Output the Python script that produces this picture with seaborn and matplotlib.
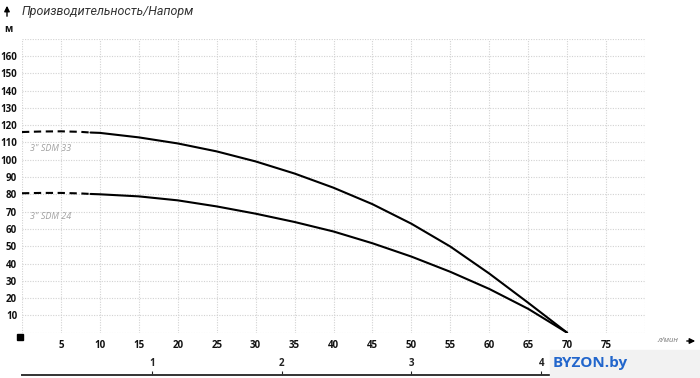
import numpy as np
import pandas as pd
import matplotlib
matplotlib.use("Agg")
import matplotlib.pyplot as plt
import matplotlib.patches as mpatches
import seaborn as sns

# ---- data ----
q_dash = [0, 2.5, 5, 7.5, 8.8]
sdm33_dash = [116.0, 116.3, 116.4, 116.1, 115.7]
sdm24_dash = [80.6, 80.8, 80.8, 80.5, 80.2]

q_solid = [8.8, 10, 15, 20, 25, 30, 35, 40, 45, 50, 55, 60, 65, 70]
sdm33 = [115.7, 115.5, 112.9, 109.4, 104.8, 99.0, 92.0, 83.8, 74.3, 63.0, 49.8, 34.2, 17.3, 0]
sdm24 = [80.2, 80.0, 78.8, 76.5, 73.0, 68.8, 64.0, 58.5, 51.7, 44.0, 35.2, 25.3, 13.8, 0]

series_names = ['3" SDM 33', '3" SDM 24']
x_ticks = list(range(0, 81, 5))
x_labels = [''] + [str(v) for v in range(5, 80, 5)] + ['']
y_ticks = list(range(0, 171, 10))
y_labels = [''] + [str(v) for v in range(10, 170, 10)] + ['']
m3h_ticks = [1, 2, 3, 4]

title = "Производительность/Напорм"
y_unit = "м"
x_unit = "л/мин"

# ---- figure ----
sns.set_theme(style="white")
plt.rcParams['font.family'] = ['Open Sans', 'DejaVu Sans']

W, H = 700, 378
fig = plt.figure(figsize=(W / 100, H / 100), dpi=100)
ax = fig.add_axes([22 / W, 1 - 332.7 / H, (645 - 22) / W, (332.7 - 38.6) / H])

dash_df = pd.DataFrame({"q": q_dash * 2,
                        "h": sdm33_dash + sdm24_dash,
                        "s": [series_names[0]] * len(q_dash) + [series_names[1]] * len(q_dash)})
solid_df = pd.DataFrame({"q": q_solid * 2,
                         "h": sdm33 + sdm24,
                         "s": [series_names[0]] * len(q_solid) + [series_names[1]] * len(q_solid)})

pal = {series_names[0]: "black", series_names[1]: "black"}
sns.lineplot(data=solid_df, x="q", y="h", hue="s", palette=pal, ax=ax,
             linewidth=1.5, legend=False, sort=False, estimator=None)
sns.lineplot(data=dash_df, x="q", y="h", hue="s", palette=pal, ax=ax,
             linewidth=1.5, legend=False, sort=False, estimator=None,
             dashes=False)
for ln in ax.lines[2:]:
    ln.set_linestyle((0, (3.5, 2.2)))

ax.set_xlim(0, 80)
ax.set_ylim(0, 170)
ax.set_xticks(x_ticks)
ax.set_xticklabels(x_labels)
ax.set_yticks(y_ticks)
ax.set_yticklabels(y_labels)
ax.set_xlabel("")
ax.set_ylabel("")
for sp in ax.spines.values():
    sp.set_visible(False)
ax.grid(True, color="#d2d2d2", linestyle=(0, (1, 1.3)), linewidth=0.8)
ax.tick_params(axis="both", length=0, labelsize=7, colors="#111111")
ax.tick_params(axis="y", pad=3.5)
ax.tick_params(axis="x", pad=5)
for t in ax.get_xticklabels() + ax.get_yticklabels():
    t.set_fontweight("bold")

# series labels
ax.text(1.0, 106.5, series_names[0], fontsize=6.5, style="italic", color="#a0a0a0",
        va="center", ha="left")
ax.text(1.0, 67.0, series_names[1], fontsize=6.5, style="italic", color="#a0a0a0",
        va="center", ha="left")

# secondary axis in m3/h
sec = ax.secondary_xaxis(-0.144, functions=(lambda q: np.asarray(q) * 0.06,
                                            lambda m: np.asarray(m) / 0.06))
sec.set_alignment("top")
sec.set_xticks(m3h_ticks)
sec.set_xticklabels([str(v) for v in m3h_ticks])
sec.spines["top"].set_color("#333333")
sec.spines["top"].set_linewidth(1.4)
sec.tick_params(axis="x", direction="out", length=3, width=0.8, colors="#222222",
                labelsize=7, pad=1)
for t in sec.get_xticklabels():
    t.set_fontweight("bold")

# title and unit decorations
fig.text(22 / W, 1 - 12 / H, title, fontsize=9, style="italic", color="#333333",
         va="center", ha="left", family=["Roboto", "DejaVu Sans"])
fig.text(8 / W, 1 - 30 / H, y_unit, fontsize=7, fontweight="bold", color="#111111",
         va="center", ha="center")
fig.text(668 / W, 1 - 341 / H, x_unit, fontsize=5.5, style="italic", color="#777777",
         va="center", ha="center")
fig.add_artist(mpatches.FancyArrowPatch((7 / W, 1 - 19 / H), (7 / W, 1 - 3 / H),
                                        transform=fig.transFigure, arrowstyle="-|>",
                                        mutation_scale=8, color="black", linewidth=1))
fig.add_artist(mpatches.FancyArrowPatch((684 / W, 1 - 341 / H), (698 / W, 1 - 341 / H),
                                        transform=fig.transFigure, arrowstyle="-|>",
                                        mutation_scale=8, color="black", linewidth=1))
fig.add_artist(mpatches.Rectangle((17 / W, 1 - 340 / H), 6 / W, 6 / H,
                                  transform=fig.transFigure, color="black"))

# watermark
fig.add_artist(mpatches.Rectangle((550 / W, 0), 150 / W, 28 / H,
                                  transform=fig.transFigure, color="#f2f2f2", zorder=5))
fig.text(553 / W, 1 - 363 / H, "BYZON.by", fontsize=11, fontweight="bold",
         color="#2266cc", va="center", ha="left", zorder=6)

fig.savefig("out.png", dpi=100)
